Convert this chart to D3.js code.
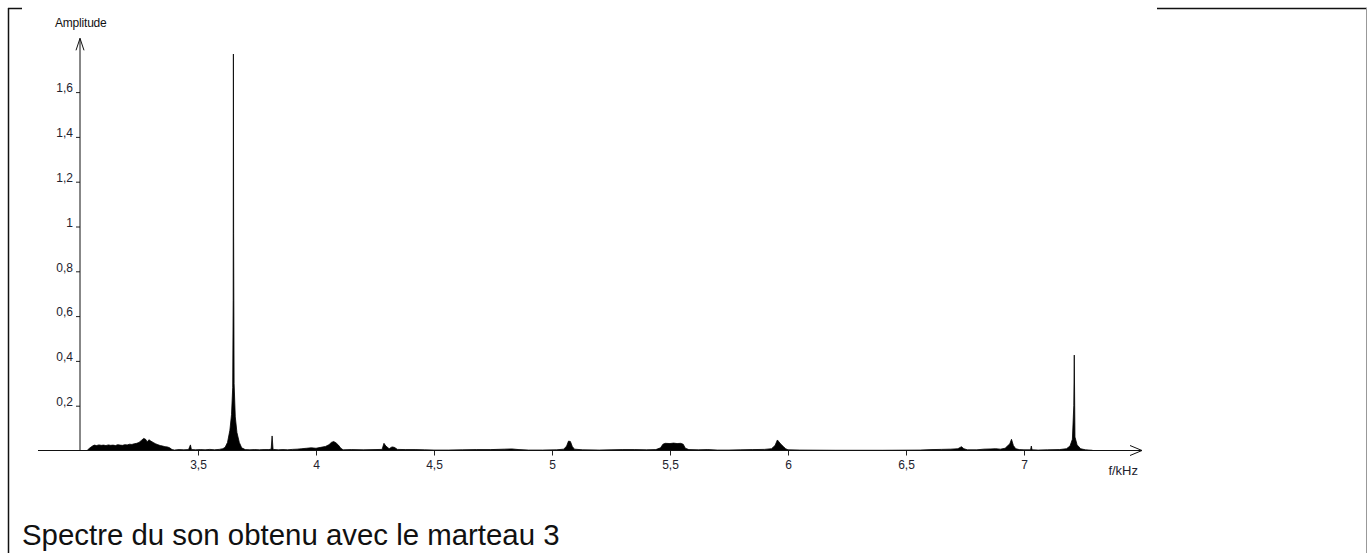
<!DOCTYPE html>
<html>
<head>
<meta charset="utf-8">
<script src="https://cdn.jsdelivr.net/npm/d3@7"></script>
<style>
  html, body { margin: 0; padding: 0; background: #fff; }
  svg { display: block; }
  .tick text { font-family: "Liberation Sans", Arial, sans-serif; font-size: 12px; fill: #22222e; }
</style>
</head>
<body>
<svg id="chart" width="1368" height="553"></svg>
<script>
// spectre : frequence (kHz) et amplitude
var freq = [3.030, 3.040, 3.050, 3.060, 3.070, 3.080, 3.090, 3.100, 3.110, 3.120, 3.130, 3.140, 3.150, 3.160, 3.170, 3.180, 3.190, 3.200,
  3.210, 3.220, 3.230, 3.240, 3.250, 3.260, 3.270, 3.278, 3.285, 3.292, 3.300, 3.310, 3.320, 3.330, 3.340, 3.350, 3.360, 3.370, 3.380,
  3.390, 3.400, 3.420, 3.440, 3.460, 3.468, 3.472, 3.490, 3.510, 3.530, 3.550, 3.570, 3.590, 3.605, 3.615, 3.625, 3.635, 3.642, 3.647,
  3.649, 3.650, 3.651, 3.653, 3.658, 3.665, 3.675, 3.685, 3.700, 3.720, 3.740, 3.760, 3.780, 3.800, 3.810, 3.814, 3.818, 3.840, 3.860,
  3.880, 3.900, 3.920, 3.940, 3.960, 3.980, 4.000, 4.020, 4.040, 4.055, 4.065, 4.075, 4.085, 4.095, 4.105, 4.115, 4.150, 4.200, 4.250,
  4.280, 4.288, 4.296, 4.310, 4.322, 4.332, 4.345, 4.380, 4.420, 4.460, 4.500, 4.560, 4.620, 4.680, 4.740, 4.800, 4.830, 4.860, 4.900,
  4.960, 5.020, 5.050, 5.062, 5.070, 5.078, 5.086, 5.095, 5.130, 5.200, 5.250, 5.300, 5.350, 5.400, 5.440, 5.460, 5.470, 5.480, 5.500,
  5.515, 5.530, 5.545, 5.556, 5.565, 5.580, 5.620, 5.660, 5.700, 5.750, 5.800, 5.850, 5.900, 5.930, 5.945, 5.955, 5.962, 5.970, 5.980,
  5.990, 6.000, 6.050, 6.200, 6.400, 6.560, 6.610, 6.650, 6.690, 6.720, 6.735, 6.745, 6.760, 6.800, 6.830, 6.860, 6.880, 6.900, 6.920,
  6.940, 6.947, 6.955, 6.965, 6.980, 7.000, 7.028, 7.031, 7.034, 7.060, 7.100, 7.150, 7.180, 7.195, 7.205, 7.211, 7.213, 7.216, 7.225,
  7.240, 7.260, 7.290];
var amp = [0.000, 0.010, 0.018, 0.024, 0.022, 0.025, 0.023, 0.024, 0.022, 0.025, 0.023, 0.024, 0.022, 0.026, 0.024, 0.023, 0.026, 0.025,
  0.028, 0.027, 0.030, 0.032, 0.036, 0.045, 0.054, 0.050, 0.038, 0.048, 0.042, 0.036, 0.030, 0.026, 0.022, 0.020, 0.017, 0.016, 0.012,
  0.004, 0.002, 0.004, 0.003, 0.004, 0.025, 0.004, 0.003, 0.004, 0.003, 0.005, 0.003, 0.005, 0.008, 0.014, 0.036, 0.090, 0.160, 0.280,
  0.670, 1.770, 0.970, 0.300, 0.150, 0.080, 0.036, 0.012, 0.004, 0.003, 0.004, 0.003, 0.004, 0.004, 0.006, 0.065, 0.005, 0.003, 0.004,
  0.003, 0.005, 0.006, 0.008, 0.010, 0.012, 0.010, 0.014, 0.018, 0.026, 0.036, 0.040, 0.034, 0.024, 0.010, 0.003, 0.004, 0.003, 0.004,
  0.005, 0.032, 0.020, 0.008, 0.016, 0.014, 0.005, 0.004, 0.004, 0.003, 0.002, 0.002, 0.003, 0.004, 0.004, 0.006, 0.007, 0.004, 0.002,
  0.002, 0.003, 0.006, 0.020, 0.042, 0.040, 0.018, 0.006, 0.003, 0.002, 0.003, 0.004, 0.004, 0.003, 0.004, 0.012, 0.028, 0.032, 0.031,
  0.033, 0.031, 0.032, 0.028, 0.010, 0.004, 0.003, 0.004, 0.002, 0.002, 0.003, 0.004, 0.005, 0.008, 0.022, 0.047, 0.038, 0.028, 0.018,
  0.008, 0.003, 0.002, 0.001, 0.001, 0.002, 0.004, 0.005, 0.006, 0.008, 0.017, 0.008, 0.003, 0.003, 0.006, 0.007, 0.008, 0.006, 0.010,
  0.030, 0.050, 0.022, 0.008, 0.004, 0.003, 0.003, 0.020, 0.003, 0.002, 0.003, 0.004, 0.008, 0.020, 0.050, 0.200, 0.426, 0.060, 0.025,
  0.008, 0.003, 0.001];

// graduations
var xMajor = [3.5, 4, 4.5, 5, 5.5, 6, 6.5, 7];
var xMinor = d3.range(31, 74).map(function (d) { return d / 10; });
var yMajor = [0.2, 0.4, 0.6, 0.8, 1, 1.2, 1.4, 1.6];
var yMinor = d3.range(1, 36).map(function (d) { return d * 0.05; });

var titre = "Spectre du son obtenu avec le marteau 3";
var yLabel = "Amplitude";
var xLabel = "f/kHz";

var data = freq.map(function (f, i) { return { f: f, a: amp[i] }; });

var svg = d3.select("#chart");

// cadre du document (bordure du tableau)
svg.append("line").attr("x1", 8.5).attr("x2", 8.5).attr("y1", 8).attr("y2", 553).attr("stroke", "#111").attr("stroke-width", 1.5);
svg.append("line").attr("x1", 8).attr("x2", 22).attr("y1", 8.5).attr("y2", 8.5).attr("stroke", "#111").attr("stroke-width", 1.5);
svg.append("line").attr("x1", 1157).attr("x2", 1367).attr("y1", 8.5).attr("y2", 8.5).attr("stroke", "#111").attr("stroke-width", 1.5);
svg.append("line").attr("x1", 1366.5).attr("x2", 1366.5).attr("y1", 8).attr("y2", 553).attr("stroke", "#999").attr("stroke-width", 1);

var x = d3.scaleLinear().domain([3, 7.5]).range([80, 1142]);
var y = d3.scaleLinear().domain([0, 1.84]).range([450.5, 450.5 - 1.84 * 224]);

var fmt = function (d) { return d3.format(".1f")(d).replace(".", ",").replace(",0", ""); };

// spectre
var area = d3.area()
  .x(function (d) { return x(d.f); })
  .y0(y(0))
  .y1(function (d) { return y(d.a); });
svg.append("path")
  .datum(data)
  .attr("d", area)
  .attr("fill", "#000")
  .attr("stroke", "#000")
  .attr("stroke-width", 0.8)
  .attr("stroke-linejoin", "round");

// axe des abscisses
var gx = svg.append("g").attr("transform", "translate(0," + y(0) + ")");
gx.call(d3.axisBottom(x).tickValues(xMinor).tickSize(3).tickFormat(""));
gx.call(d3.axisBottom(x).tickValues(xMajor).tickSize(5).tickPadding(5).tickFormat(fmt));
gx.selectAll(".domain").remove();
gx.selectAll(".tick line").attr("stroke", "#222");

// axe des ordonnees
var gy = svg.append("g").attr("transform", "translate(" + x(3) + ",0)");
gy.call(d3.axisLeft(y).tickValues(yMinor).tickSize(3).tickFormat(""));
gy.call(d3.axisLeft(y).tickValues(yMajor).tickSize(4).tickPadding(3).tickFormat(fmt));
gy.selectAll(".domain").remove();
gy.selectAll(".tick line").attr("stroke", "#222");
gy.selectAll(".tick text").attr("y", -4);

// lignes des axes avec fleches
var axisColor = "#111";
svg.append("line").attr("x1", x(2.822)).attr("x2", x(7.5)).attr("y1", y(0)).attr("y2", y(0)).attr("stroke", axisColor);
svg.append("polyline")
  .attr("points", [[x(7.5) - 12, y(0) - 5], [x(7.5), y(0)], [x(7.5) - 12, y(0) + 5]].join(" "))
  .attr("fill", "none").attr("stroke", axisColor);
svg.append("line").attr("x1", x(3)).attr("x2", x(3)).attr("y1", y(0)).attr("y2", y(1.84)).attr("stroke", axisColor);
svg.append("polyline")
  .attr("points", [[x(3) - 4, y(1.84) + 12], [x(3), y(1.84)], [x(3) + 4, y(1.84) + 12]].join(" "))
  .attr("fill", "none").attr("stroke", axisColor);

// titres des axes
svg.append("text")
  .attr("x", 55).attr("y", 27)
  .attr("font-family", "Liberation Sans, Arial, sans-serif")
  .attr("font-size", 12).attr("letter-spacing", -0.2)
  .attr("fill", "#111")
  .text(yLabel);
svg.append("text")
  .attr("x", 1138).attr("y", 475)
  .attr("text-anchor", "end")
  .attr("font-family", "Liberation Sans, Arial, sans-serif")
  .attr("font-size", 13)
  .attr("fill", "#22222e")
  .text(xLabel);

// legende sous le graphique
svg.append("text")
  .attr("x", 22).attr("y", 545)
  .attr("font-family", "Liberation Sans, Arial, sans-serif")
  .attr("font-size", 29.4)
  .attr("fill", "#111")
  .text(titre);
</script>
</body>
</html>
